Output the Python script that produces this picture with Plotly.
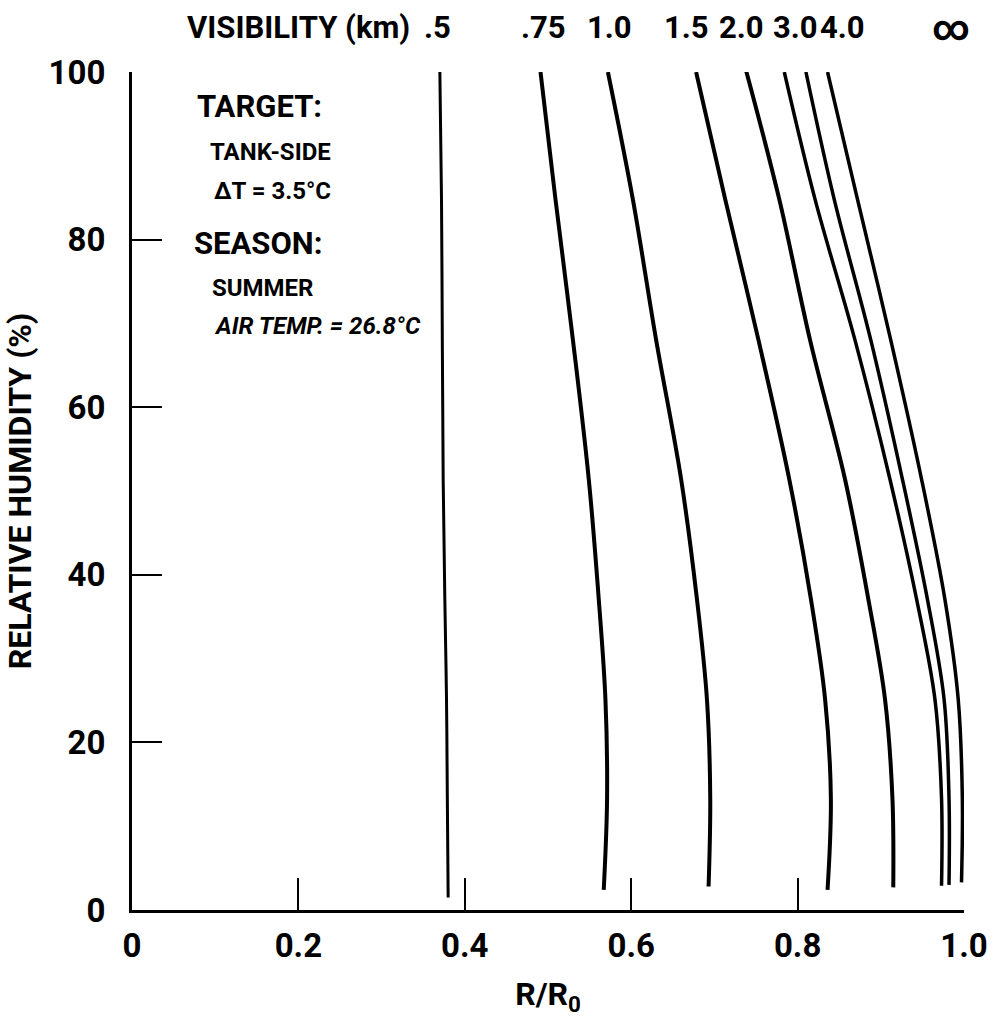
import plotly.graph_objects as go

# ---- data ----
vis_labels = [".5", ".75", "1.0", "1.5", "2.0", "3.0", "4.0", "∞"]

rh_v05 = [100.2, 84.8, 67.3, 51.4, 37.1, 25.2, 13.3, 1.5]
rr_v05 = [0.370, 0.372, 0.373, 0.374, 0.376, 0.378, 0.379, 0.380]

rh_v075 = [100.0, 84.8, 68.0, 51.4, 37.1, 25.2, 13.3, 2.4]
rr_v075 = [0.491, 0.509, 0.530, 0.549, 0.561, 0.569, 0.571, 0.567]

rh_v10 = [100.0, 84.8, 68.0, 51.4, 37.1, 25.2, 13.3, 2.8]
rr_v10 = [0.572, 0.602, 0.630, 0.660, 0.679, 0.691, 0.695, 0.693]

rh_v15 = [100.0, 84.8, 68.0, 51.4, 37.1, 25.2, 13.3, 2.4]
rr_v15 = [0.678, 0.713, 0.753, 0.790, 0.816, 0.833, 0.840, 0.836]

rh_v20 = [100.2, 84.8, 68.0, 51.4, 37.1, 25.2, 13.3, 2.7]
rr_v20 = [0.738, 0.778, 0.815, 0.857, 0.885, 0.905, 0.914, 0.915]

rh_v30 = [100.0, 84.8, 68.0, 51.4, 37.1, 25.2, 13.3, 2.9]
rr_v30 = [0.784, 0.821, 0.869, 0.911, 0.943, 0.965, 0.973, 0.973]

rh_v40 = [100.0, 84.8, 68.0, 51.4, 37.1, 25.2, 13.3, 3.0]
rr_v40 = [0.810, 0.844, 0.888, 0.926, 0.956, 0.976, 0.982, 0.982]

rh_vinf = [100.0, 84.8, 68.0, 51.4, 37.1, 25.2, 13.3, 3.3]
rr_vinf = [0.836, 0.872, 0.912, 0.949, 0.977, 0.993, 0.998, 0.997]

x_tickvals = [0, 0.2, 0.4, 0.6, 0.8, 1.0]
x_ticktext = ["0", "0.2", "0.4", "0.6", "0.8", "1.0"]
y_tickvals = [0, 20, 40, 60, 80, 100]
y_ticktext = ["0", "20", "40", "60", "80", "100"]

# ---- layout constants ----
FONT = "Roboto, 'DejaVu Sans Condensed', sans-serif"
label_x = [0.367, 0.494, 0.574, 0.666, 0.732, 0.797, 0.854, 0.984]

curves = [
    (rr_v05, rh_v05, 3.0),
    (rr_v075, rh_v075, 4.0),
    (rr_v10, rh_v10, 4.0),
    (rr_v15, rh_v15, 4.0),
    (rr_v20, rh_v20, 4.0),
    (rr_v30, rh_v30, 3.5),
    (rr_v40, rh_v40, 3.5),
    (rr_vinf, rh_vinf, 3.5),
]

fig = go.Figure()
for (xs, ys, w), name in zip(curves, vis_labels):
    fig.add_trace(go.Scatter(
        x=xs, y=ys, mode="lines", name=name,
        line=dict(color="black", width=w, shape="spline", smoothing=1.0),
        cliponaxis=False, showlegend=False,
    ))

annotations = []
annotations.append(dict(
    x=0.336, y=1.053, xref="x", yref="paper", text="VISIBILITY (km)",
    showarrow=False, xanchor="right", yanchor="middle",
    font=dict(family=FONT, size=31, color="black", weight="bold"),
))
for lx, lab in zip(label_x, vis_labels):
    annotations.append(dict(
        x=lx, y=1.053, xref="x", yref="paper", text=lab,
        showarrow=False, xanchor="center", yanchor="middle",
        font=dict(family=FONT, size=(36 if lab == "∞" else 31), color="black", weight="bold"),
    ))

notes = [
    ("TARGET:", 0.0756, 95.9, 31, "normal"),
    ("TANK-SIDE", 0.091, 90.5, 24, "normal"),
    ("ΔT = 3.5°C", 0.096, 85.8, 24, "normal"),
    ("SEASON:", 0.0717, 79.5, 31, "normal"),
    ("SUMMER", 0.0936, 74.2, 24, "normal"),
    ("AIR TEMP. = 26.8°C", 0.0957, 69.7, 24, "italic"),
]
for txt, nx, ny, sz, st in notes:
    annotations.append(dict(
        x=nx, y=ny, xref="x", yref="y", text=txt, showarrow=False,
        xanchor="left", yanchor="middle",
        font=dict(family=FONT, size=sz, color="black", weight="bold", style=st),
    ))

fig.update_layout(
    width=1000, height=1019,
    margin=dict(l=132, r=35, t=72, b=107),
    paper_bgcolor="white", plot_bgcolor="white",
    annotations=annotations,
    font=dict(family=FONT, color="black"),
)
fig.update_xaxes(
    range=[0, 1.0], showgrid=False, zeroline=False,
    showline=True, linecolor="black", linewidth=3,
    ticks="inside", ticklen=32, tickwidth=2, tickcolor="black",
    tickvals=x_tickvals, ticktext=x_ticktext, ticklabelstandoff=4,
    tickfont=dict(family=FONT, size=33, color="black", weight="bold"),
    title=dict(text="R/R<sub>0</sub>", standoff=20,
               font=dict(family=FONT, size=32, color="black", weight="bold")),
)
fig.update_yaxes(
    range=[0, 100], showgrid=False, zeroline=False,
    showline=True, linecolor="black", linewidth=3,
    ticks="inside", ticklen=30, tickwidth=2, tickcolor="black",
    tickvals=y_tickvals, ticktext=y_ticktext, ticklabelstandoff=17,
    tickfont=dict(family=FONT, size=33, color="black", weight="bold"),
    title=dict(text="RELATIVE HUMIDITY (%)", standoff=8,
               font=dict(family=FONT, size=32, color="black", weight="bold")),
)

fig.write_html("out.html")
